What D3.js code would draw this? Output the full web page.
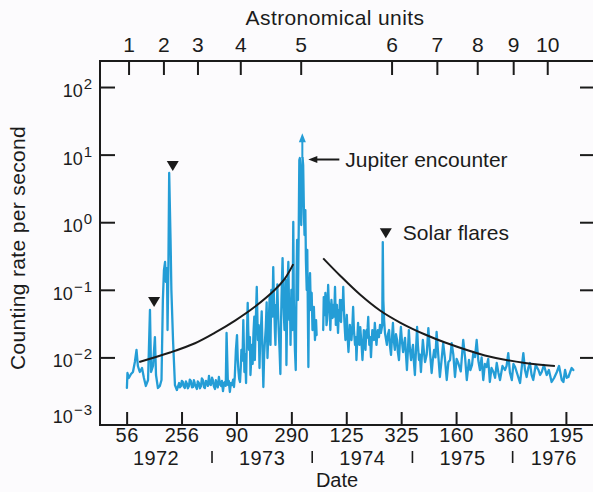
<!DOCTYPE html>
<html><head><meta charset="utf-8">
<script src="https://cdn.jsdelivr.net/npm/d3@7"></script>
<style>
html,body{margin:0;padding:0;background:#fcfbfd;}
svg{display:block;font-family:"Liberation Sans",Arial,Helvetica,sans-serif;}
</style></head><body>
<svg id="chart" width="593" height="492"></svg>
<script>
// ---- data (days counted from 1 Jan 1972) ----
const auDays   = [62, 189, 313, 469, 689, 1020, 1185, 1332, 1463, 1587];
const auLabels = ["1","2","3","4","5","6","7","8","9","10"];
const dateTickDays   = [55, 255, 455, 655, 855, 1055, 1255, 1455, 1655];
const dateTickLabels = ["56","256","90","290","125","325","160","360","195"];
const yearStarts = [0, 366, 731, 1096, 1461];
const yearLabels = ["1972","1973","1974","1975","1976"];
const rateTicks   = [1e2, 1e1, 1e0, 1e-1, 1e-2, 1e-3];
const rateTickExp = ["2","1","0","\u22121","\u22122","\u22123"];

// counting rate readings: [day, counts per second]; null = data gap
const counterReadings = [
 [56,0.00353],[58,0.00588],[63,0.00496],[71,0.00568],[78,0.00608],[85,0.00855],[91,0.0129],[96,0.00746],[103,0.00608],[111,0.00697],
 [118,0.00496],[125,0.00378],[133,0.00463],[140,0.0503],[144,0.00608],[151,0.00746],[158,0.0200],[162,0.00549],[169,0.00353],[176,0.00378],
 [182,0.00463],[187,0.0707],[191,0.196],[195,0.258],[198,0.131],[202,0.210],[204,0.0254],[207,0.196],[210,5.35],[215,0.546],
 [218,0.0993],[224,0.0181],[231,0.00391],[238,0.00329],
 [246,0.00418],[249,0.0036],[253,0.00378],[256,0.0045],[260,0.00433],[263,0.0037],[267,0.00353],[271,0.0044],[275,0.00404],[278,0.0035],
 [282,0.00378],[285,0.0047],[289,0.00448],[293,0.0036],[297,0.00365],[300,0.0046],[304,0.00404],[307,0.0037],[311,0.00341],[314,0.0044],
 [318,0.00418],[322,0.0035],[326,0.00378],[329,0.0049],[333,0.00463],[337,0.0036],[340,0.00353],[344,0.0045],[348,0.00418],[351,0.0038],
 [355,0.00531],[358,0.0040],[362,0.00391],[366,0.0050],[369,0.00463],[373,0.0037],[377,0.00341],[380,0.0046],[384,0.00404],[387,0.0036],
 [391,0.00513],[395,0.0040],[399,0.00378],[402,0.0045],[406,0.00318],[410,0.0042],[413,0.00433],[416,0.0038],[419,0.0230],[424,0.00391],
 [427,0.0045],[431,0.00308],[435,0.0042],[439,0.00391],
 [443,0.0047],[446,0.00365],[449,0.0052],[453,0.0129],[457,0.0214],[460,0.0090],[462,0.00651],[465,0.0048],[468,0.00433],[471,0.0075],
 [473,0.0129],[477,0.0090],[480,0.0357],[482,0.0150],[484,0.00608],[487,0.0110],[490,0.00418],[493,0.0200],[496,0.0638],[498,0.0250],
 [501,0.0129],[504,0.0200],[506,0.00549],[509,0.0095],[511,0.0153],[514,0.0080],[517,0.0230],[520,0.0400],[522,0.00915],[525,0.0300],
 [529,0.110],[531,0.0450],[533,0.0181],[536,0.0300],[539,0.00697],[541,0.0160],[544,0.0254],[547,0.0480],[550,0.0120],[553,0.00365],
 [556,0.0110],[559,0.0181],[562,0.0282],[565,0.0650],[568,0.0098],[571,0.0200],[573,0.0357],[576,0.0800],[579,0.0153],[582,0.0993],
 [586,0.0400],[589,0.217],[591,0.0900],[593,0.0503],[595,0.0250],[597,0.0153],[600,0.0600],[602,0.0383],[604,0.120],[606,0.0557],
 [609,0.0250],[612,0.0129],[615,0.00568],[617,0.0250],[619,0.0707],[621,0.150],[623,0.295],[626,0.0707],[628,0.0400],[630,0.0254],
 [632,0.0600],[634,0.140],[636,0.0300],[637,0.00772],[639,0.0300],[641,0.0707],[642,0.150],[644,0.258],[646,0.0800],[648,0.0357],
 [650,0.0700],[652,0.0153],[655,0.0993],[657,0.0500],[659,0.0254],[662,1.01],[664,0.0707],[668,0.0129],[671,0.00651],[674,0.166],
 [676,0.546],[679,0.0707],[682,0.909],[684,8.32],[686,8.91],[689,2.13],[691,0.909],[694,5.92],[696,8.91],[698,7.02],
 [701,1.28],[703,0.647],[706,1.51],[708,0.276],[711,0.0993],[713,0.388],[717,0.00721],[719,0.0707],[723,0.177],[726,0.0503],
 [729,0.0897],[732,0.0254],[735,0.0282],[737,0.0557],[741,0.0181],[745,0.0357],[747,0.0214],
 [760,null],
 [771,0.0254],[773,0.0782],[775,0.0500],[777,0.0424],[779,0.0900],[781,0.0707],[783,0.0300],[785,0.0357],[787,0.0600],[789,0.118],
 [791,0.0700],[794,0.0503],[796,0.0350],[797,0.0254],[799,0.0450],[801,0.0707],[803,0.0500],[805,0.0383],[808,0.0596],[811,0.0400],
 [814,0.110],[816,0.0500],[817,0.0302],[819,0.0450],[821,0.0596],[823,0.0350],[825,0.0230],[828,0.0503],[830,0.0350],[832,0.0707],
 [834,0.0450],[836,0.0334],[839,0.0707],[842,0.0500],[844,0.110],[846,0.0600],[848,0.0357],[850,0.0250],[852,0.0181],[855,0.0300],
 [857,0.0424],[860,0.0200],[863,0.0120],[866,0.0200],[868,0.0302],[871,0.0220],[874,0.0181],[877,0.0280],[880,0.0557],[883,0.0250],
 [887,0.0153],[890,0.0200],[892,0.00915],[895,0.0180],[898,0.0323],[900,0.0200],[903,0.0153],[906,0.0280],[908,0.0214],[911,0.0150],
 [914,0.00915],[917,0.0160],[919,0.0254],[922,0.0180],[925,0.0129],[928,0.0250],[930,0.0194],[933,0.0280],[935,0.0396],[937,0.0220],
 [939,0.0153],[942,0.0200],[945,0.0101],[948,0.0180],[950,0.0254],[953,0.0200],[956,0.0181],[959,0.0323],[962,0.0220],[965,0.0153],
 [968,0.0220],[970,0.0254],[974,0.0200],[978,0.0302],[981,0.0230],[983,0.0254],[986,0.0300],[988,0.509],[990,0.0707],[993,0.0350],
 [996,0.0230],
 [1003,0.0153],[1007,0.0220],[1011,0.0254],[1014,0.0150],[1018,0.0109],[1021,0.0180],[1025,0.0323],[1028,0.0180],[1032,0.0129],[1036,0.0220],
 [1040,0.0181],[1043,0.0120],[1047,0.00915],[1050,0.0160],[1054,0.0282],[1058,0.0170],[1062,0.0120],[1065,0.0150],[1069,0.0194],[1072,0.0120],
 [1076,0.00651],[1080,0.0140],[1083,0.0254],[1087,0.0130],[1091,0.00915],[1094,0.0120],[1098,0.0153],[1101,0.0090],[1105,0.00549],[1109,0.0130],
 [1113,0.0282],[1116,0.0150],[1120,0.00915],[1123,0.0110],[1127,0.00608],[1130,0.0100],[1134,0.0181],[1138,0.0120],[1142,0.00855],[1148,0.0110],
 [1154,0.0272],[1160,0.0120],[1166,0.00588],[1170,0.0090],[1175,0.0129],[1180,0.0100],[1184,0.0238],[1190,0.0110],[1196,0.00513],[1202,0.0090],
 [1208,0.0163],[1214,0.0100],[1221,0.00463],[1227,0.0085],[1233,0.00915],[1239,0.0163],[1245,0.0110],[1251,0.00513],[1257,0.0095],[1263,0.00826],
 [1272,0.0062],[1281,0.0181],[1288,0.0098],[1294,0.00463],[1302,0.00915],[1307,0.0065],[1313,0.00772],[1318,0.0120],[1324,0.0101],[1330,0.0181],
 [1336,0.0090],[1342,0.00651],[1348,0.0100],[1354,0.00463],[1360,0.0080],[1366,0.00721],[1372,0.0095],[1378,0.00433],[1384,0.0070],[1391,0.00608],
 [1397,0.0050],[1403,0.00826],[1409,0.0060],[1415,0.00463],[1424,0.00746],[1433,0.00651],[1439,0.0075],[1445,0.0116],[1451,0.0060],[1458,0.00463],
 [1464,0.0080],[1470,0.00721],[1478,0.00568],[1488,0.00418],[1494,0.0070],[1500,0.0116],[1506,0.0065],[1512,0.00513],[1518,0.0070],[1524,0.00826],
 [1530,0.0055],[1536,0.00463],[1545,0.00772],[1555,0.00651],[1561,0.0055],[1567,0.00608],[1575,0.00772],[1585,0.00549],[1593,0.00651],[1603,0.00433],
 [1612,0.00496],[1622,0.00608],[1630,0.00746],[1640,0.00463],[1646,0.00433],[1652,0.00651],[1658,0.0050],[1664,0.00513],[1670,0.0060],[1676,0.00697],
 [1682,0.00651]
];

const trendInDays  = [101, 213, 304, 377, 450, 522, 595, 632, 662];
const trendInRates = [0.00855, 0.0118, 0.0162, 0.0232, 0.0350, 0.0560, 0.100, 0.148, 0.240];
const trendOutDays  = [771, 832, 905, 978, 1051, 1142, 1215, 1360, 1506, 1615];
const trendOutRates = [0.292, 0.163, 0.0851, 0.0494, 0.0328, 0.0218, 0.0166, 0.0107, 0.00826, 0.00746];

const flareDays  = [155, 223, 999];
const flareRates = [0.0557, 5.72, 0.578];
const jupiterDay = 695, jupiterPeak = 8.91, jupiterArrowTop = 20.7;

// ---- layout ----
const pLeft = 100, pRight = 595, pTop = 61, pBottom = 425;
const ink = "#1b1b1b", blue = "#249dd6";
const svg = d3.select("#chart");
const xs = d3.scaleLinear().domain([-42, 1761]).range([pLeft, pRight]);
const ys = d3.scaleLog().domain([1e-3, Math.pow(10, 2.385)]).range([pBottom, pTop]);

// frame
svg.append("path").attr("d", `M${pRight},${pTop}H${pLeft}V${pBottom}H${pRight}V${pTop}`)
  .attr("stroke", ink).attr("stroke-width", 2).attr("fill", "none");

// ticks via d3 axes
function styleAxis(g){ g.select(".domain").remove(); g.selectAll(".tick line").attr("stroke", ink).attr("stroke-width", 2); }
svg.append("g").attr("transform", `translate(0,${pBottom})`)
  .call(d3.axisBottom(xs).tickValues(dateTickDays).tickSize(-13).tickPadding(3).tickFormat((d,i)=>dateTickLabels[i]))
  .call(styleAxis)
  .call(g=>g.selectAll("text").attr("font-size",20).attr("fill",ink).attr("letter-spacing",0.4));
svg.append("g").attr("transform", `translate(0,${pTop})`)
  .call(d3.axisTop(xs).tickValues(auDays).tickSize(-14).tickPadding(9).tickFormat((d,i)=>auLabels[i]))
  .call(styleAxis)
  .call(g=>g.selectAll("text").attr("font-size",21).attr("fill",ink));
svg.append("g").attr("transform", `translate(${pLeft},0)`)
  .call(d3.axisLeft(ys).tickValues(rateTicks.slice(0,5)).tickSize(-15).tickFormat(""))
  .call(styleAxis);
svg.append("g").attr("transform", `translate(${pRight},0)`)
  .call(d3.axisRight(ys).tickValues(rateTicks.slice(0,5)).tickSize(-15).tickFormat(""))
  .call(styleAxis);
svg.selectAll(".tick text").attr("font-family", null);

// y tick labels with superscripts
const yl = svg.append("g").attr("fill", ink);
rateTicks.forEach((v,i)=>{
  const last = i === rateTicks.length-1;
  const t = yl.append("text").attr("x", 93).attr("y", ys(v) + (last ? -2 : 10)).attr("text-anchor","end").attr("font-size",18);
  t.append("tspan").text("10");
  t.append("tspan").attr("font-size",15).attr("dy",-8).attr("dx",1).attr("letter-spacing",1).text(rateTickExp[i]);
});

// year labels and separators
const bounds = [pLeft, ...yearStarts.slice(1).map(d=>xs(d)), pRight];
svg.append("g").selectAll("line").data(yearStarts.slice(1)).join("line")
  .attr("x1", d=>xs(d)).attr("x2", d=>xs(d)).attr("y1", 451).attr("y2", 463)
  .attr("stroke", ink).attr("stroke-width", 1.6);
svg.append("g").selectAll("text").data(yearLabels).join("text")
  .attr("x", (d,i)=>(bounds[i]+bounds[i+1])/2).attr("y", 465)
  .attr("text-anchor","middle").attr("font-size",20).attr("letter-spacing",0.4).attr("fill",ink).text(d=>d);

// axis titles
svg.append("text").attr("x", 337).attr("y", 487).attr("text-anchor","middle").attr("font-size",20).attr("fill",ink).text("Date");
svg.append("text").attr("x", 335).attr("y", 25).attr("text-anchor","middle").attr("font-size",21).attr("letter-spacing",0.4).attr("fill",ink).text("Astronomical units");
svg.append("text").attr("transform","translate(25,248) rotate(-90)").attr("text-anchor","middle").attr("font-size",21).attr("letter-spacing",0.35).attr("fill",ink).text("Counting rate per second");

// data line
const series = counterReadings.map(([d,v])=>({d, v}));
const line = d3.line().defined(p=>p.v != null).x(p=>xs(p.d)).y(p=>ys(p.v));
svg.append("path").datum(series).attr("d", line).attr("fill","none").attr("stroke", blue)
  .attr("stroke-width", 2.3).attr("stroke-linejoin","round").attr("stroke-linecap","round");

// arrow above Jupiter peak
const ja = xs(jupiterDay), jy0 = ys(jupiterPeak), jy1 = ys(jupiterArrowTop);
svg.append("path").attr("d", `M${ja},${jy0}V${jy1+7}`).attr("stroke", blue).attr("stroke-width", 2);
svg.append("path").attr("d", `M${ja},${jy1}L${ja-3.5},${jy1+9}H${ja+3.5}Z`).attr("fill", blue);

// trend curves
const trendLine = d3.line().curve(d3.curveCatmullRom.alpha(0.5)).x(p=>xs(p[0])).y(p=>ys(p[1]));
[[trendInDays,trendInRates],[trendOutDays,trendOutRates]].forEach(([ds,rs])=>{
  svg.append("path").datum(ds.map((d,i)=>[d,rs[i]])).attr("d", trendLine)
    .attr("fill","none").attr("stroke", ink).attr("stroke-width", 2);
});

// flare markers
svg.append("g").selectAll("path").data(flareDays.map((d,i)=>[xs(d), ys(flareRates[i])])).join("path")
  .attr("d", p=>`M${p[0]-6},${p[1]-10}H${p[0]+6}L${p[0]},${p[1]}Z`).attr("fill", ink);

// annotations
const ax = ja + 6, ay = jy0 + 1.5;
svg.append("path").attr("d", `M${ax+8},${ay}H${ax+31}`).attr("stroke", ink).attr("stroke-width", 2);
svg.append("path").attr("d", `M${ax},${ay}L${ax+9},${ay-3.5}V${ay+3.5}Z`).attr("fill", ink);
svg.append("text").attr("x", ax+37).attr("y", ay+7.5).attr("font-size",21).attr("fill",ink).text("Jupiter encounter");
const fx = xs(flareDays[2]), fy = ys(flareRates[2]);
svg.append("text").attr("x", fx+17).attr("y", fy+2).attr("font-size",21).attr("fill",ink).text("Solar flares");
</script>
</body></html>
